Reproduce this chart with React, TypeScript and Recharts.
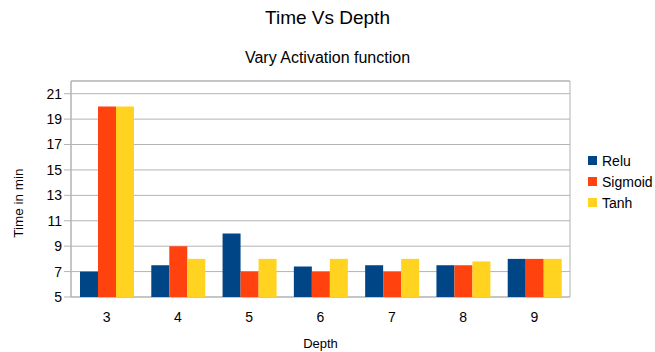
import React from 'react';
import { BarChart, Bar, XAxis, YAxis, CartesianGrid, Legend, ReferenceArea } from 'recharts';

const depths = ['3', '4', '5', '6', '7', '8', '9'];
const relu = [7, 7.5, 10, 7.4, 7.5, 7.5, 8];
const sigmoid = [20, 9, 7, 7, 7, 7.5, 8];
const tanh = [20, 8, 8, 8, 8, 7.8, 8];
const yTicks = [5, 7, 9, 11, 13, 15, 17, 19, 21];

const SERIES = [
    { key: 'Relu', color: '#004586' },
    { key: 'Sigmoid', color: '#ff420e' },
    { key: 'Tanh', color: '#ffd320' },
];

const FONT = '"Liberation Sans", Arial, sans-serif';
const GRID = '#b3b3b3';

const data = depths.map((d, i) => ({
    depth: d,
    idx: i + 0.5,
    Relu: relu[i],
    Sigmoid: sigmoid[i],
    Tanh: tanh[i],
}));

const LegendBox = () => (
    <div style={{ width: 70, boxSizing: 'border-box', paddingLeft: 18, fontFamily: FONT, fontSize: 14, color: '#000' }}>
        {SERIES.map(s => (
            <div key={s.key} style={{ height: 21, display: 'flex', alignItems: 'center', whiteSpace: 'nowrap' }}>
                <span style={{ width: 9, height: 9, background: s.color, marginRight: 5, display: 'inline-block', flex: 'none' }} />
                {s.key}
            </div>
        ))}
    </div>
);

const App = () => {
    return (
        <div style={{ position: 'absolute', left: 0, top: 0, width: 655, height: 352, fontFamily: FONT }}>
            <div style={{ position: 'absolute', top: 7, width: 655, textAlign: 'center', fontSize: 19 }}>Time Vs Depth</div>
            <div style={{ position: 'absolute', top: 49, width: 655, textAlign: 'center', fontSize: 16 }}>Vary Activation function</div>
            <div style={{ position: 'absolute', top: 336, left: 71, width: 499, textAlign: 'center', fontSize: 13 }}>Depth</div>
            <div style={{ position: 'absolute', left: 18, top: 203, fontSize: 13.5, transform: 'translate(-50%, -50%) rotate(-90deg)', whiteSpace: 'nowrap' }}>Time in min</div>
            <BarChart
                width={655}
                height={352}
                data={data}
                margin={{ top: 81, right: 15, bottom: 25, left: 21 }}
                barCategoryGap={9}
                barGap={0}
            >
                <CartesianGrid vertical={false} stroke={GRID} />
                <ReferenceArea y1={5} y2={22} fill="none" stroke={GRID} ifOverflow="visible" />
                <XAxis xAxisId="b" dataKey="idx" type="number" domain={[0, 7]} ticks={[0, 1, 2, 3, 4, 5, 6, 7]}
                    tick={false} height={0} stroke={GRID} tickSize={6} />
                <XAxis dataKey="depth" axisLine={false} tickLine={false} height={30} tickMargin={9}
                    tick={{ fill: '#000', fontSize: 14 }} />
                <YAxis domain={[5, 22]} ticks={yTicks} width={50} stroke={GRID} tickSize={7}
                    tick={{ fill: '#000', fontSize: 14 }} allowDataOverflow />
                <Legend layout="vertical" align="right" verticalAlign="middle" content={<LegendBox />}
                    wrapperStyle={{ top: 150 }} />
                {SERIES.map(s => (
                    <Bar key={s.key} dataKey={s.key} fill={s.color} isAnimationActive={false} />
                ))}
            </BarChart>
        </div>
    );
};

export default App;
